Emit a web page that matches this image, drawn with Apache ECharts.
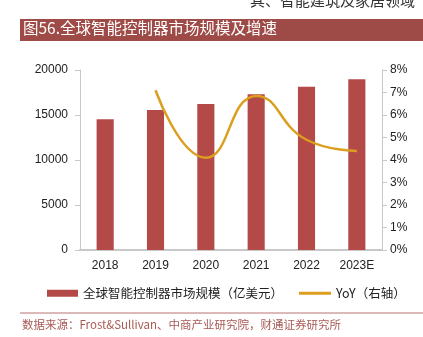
<!DOCTYPE html>
<html><head><meta charset="utf-8">
<script src="https://cdn.jsdelivr.net/npm/echarts@6/dist/echarts.min.js"></script>
<style>html,body{margin:0;padding:0;background:#fff}#c{width:423px;height:337px}</style>
</head><body><div id="c"></div>
<script>
const categories = ['2018','2019','2020','2021','2022','2023E'];
const marketSize = [14520, 15560, 16220, 17300, 18150, 18960];
const yoy = [null, 7.1, 4.1, 6.85, 4.9, 4.4];
const leftTicks = ['0','5000','10000','15000','20000'];
const rightTicks = ['0%','1%','2%','3%','4%','5%','6%','7%','8%'];
const barName = '全球智能控制器市场规模（亿美元）';
const lineName = 'YoY（右轴）';

const chart = echarts.init(document.getElementById('c'), null, {renderer:'canvas'});
const sans = 'Liberation Sans, Arial, sans-serif';
const cjk = '"Noto Sans CJK SC", sans-serif';
chart.setOption({
  animation:false,
  grid:{left:80, right:41, top:70, bottom:87},
  graphic:[
    {type:'text', left:250, top:-7, style:{text:'其、智能建筑及家居领域', font:'15px "Noto Sans CJK SC"', fill:'#333'}},
    {type:'rect', shape:{x:20, y:19, width:403, height:22}, style:{fill:'#9E4B47'}},
    {type:'text', left:23, top:20, style:{text:'图56.全球智能控制器市场规模及增速', font:'15.5px "Noto Sans CJK SC"', fill:'#fff'}},
    {type:'line', shape:{x1:20, y1:313, x2:423, y2:313}, style:{stroke:'#B97572', lineWidth:1}},
    {type:'text', left:22, top:319, style:{text:'数据来源：Frost&Sullivan、中商产业研究院，财通证券研究所', font:'11.5px "Noto Sans CJK SC"', fill:'#A85A55'}}
  ],
  legend:[
    {data:[barName], left:42, top:282, itemWidth:31, itemHeight:7, icon:'rect', itemGap:10,
     textStyle:{fontFamily:cjk, fontSize:12.5, color:'#222'}},
    {data:[lineName], left:294, top:282, itemWidth:32, itemHeight:3, icon:'rect',
     textStyle:{fontFamily:cjk, fontSize:12.5, color:'#222'}}
  ],
  xAxis:{type:'category', data:categories,
    axisLine:{lineStyle:{color:'#c8c8c8', width:2}}, axisTick:{show:false},
    axisLabel:{fontFamily:sans, fontSize:12, color:'#222', margin:10}},
  yAxis:[
    {type:'value', min:0, max:20000, interval:5000, splitLine:{show:false},
     axisLine:{show:true, lineStyle:{color:'#c8c8c8'}}, axisTick:{show:true, length:5, lineStyle:{color:'#c8c8c8'}},
     axisLabel:{fontFamily:sans, fontSize:12, color:'#222', margin:12, formatter:(v)=>leftTicks[Math.round(v/5000)]}},
    {type:'value', min:0, max:8, interval:1, splitLine:{show:false},
     axisLine:{show:true, lineStyle:{color:'#c8c8c8'}}, axisTick:{show:true, length:5, lineStyle:{color:'#c8c8c8'}},
     axisLabel:{fontFamily:sans, fontSize:12, color:'#222', margin:8, formatter:(v)=>rightTicks[Math.round(v)]}}
  ],
  series:[
    {name:barName, type:'bar', data:marketSize, barWidth:'34%', yAxisIndex:0,
     itemStyle:{color:'#B34A48'}},
    {name:lineName, type:'line', data:yoy, yAxisIndex:1, smooth:0.5, showSymbol:false, connectNulls:false,
     lineStyle:{color:'#DC9E1E', width:2.5}, itemStyle:{color:'#DC9E1E'}}
  ]
});
</script></body></html>
